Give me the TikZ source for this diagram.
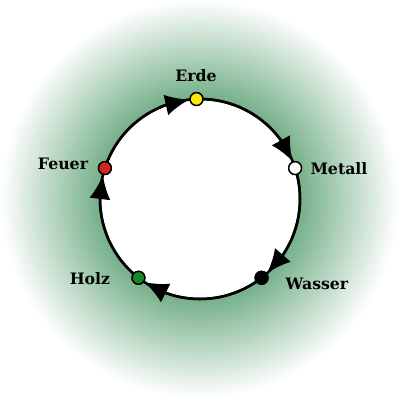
\documentclass[tikz,border=0pt]{standalone}
\usepackage{fontspec}
\setmainfont{DejaVu Serif}
\usetikzlibrary{arrows.meta,bending}
\definecolor{gdark}{RGB}{115,175,135}
\definecolor{dotyellow}{RGB}{250,230,10}
\definecolor{dotred}{RGB}{215,35,30}
\definecolor{dotgreen}{RGB}{25,135,40}
\tikzset{
  dot/.style={circle, draw=black, line width=1pt, minimum size=3.2mm, inner sep=0pt},
  lbl/.style={font=\fontsize{11.2}{13}\selectfont\bfseries, inner sep=0pt},
  flow/.style={line width=1.8pt, -{Latex[length=17pt,width=15pt,flex]}}
}
\begin{document}
\begin{tikzpicture}[x=0.25mm, y=0.25mm]
\useasboundingbox (-200,-201) rectangle (200,199);
\fill[white] (-200,-201) rectangle (200,199);
\foreach \r in {200,198,...,100}{
  \pgfmathsetmacro{\pct}{100*(200-\r)/100}
  \fill[gdark!\pct!white] (0,0) circle (\r);
}
\fill[white] (0,0) circle (100);
\draw[line width=1.8pt] (0,0) circle (100);
\node[dot, fill=dotyellow] (erde) at (92:100) {};
\node[dot, fill=white] (metall) at (18:100) {};
\node[dot, fill=black] (wasser) at (-52:100) {};
\node[dot, fill=dotgreen] (holz) at (-128:100) {};
\node[dot, fill=dotred] (feuer) at (162:100) {};
\draw[flow] (feuer.center) arc[start angle=162, end angle=96.2, radius=100];
\draw[flow] (erde.center) arc[start angle=92, end angle=22.2, radius=100];
\draw[flow] (metall.center) arc[start angle=18, end angle=-47.8, radius=100];
\draw[flow] (wasser.center) arc[start angle=-52, end angle=-123.8, radius=100];
\draw[flow] (holz.center) arc[start angle=-128, end angle=-193.8, radius=100];
\node[dot, fill=dotyellow] at (erde) {};
\node[dot, fill=white] at (metall) {};
\node[dot, fill=black] at (wasser) {};
\node[dot, fill=dotgreen] at (holz) {};
\node[dot, fill=dotred] at (feuer) {};
\node[lbl] (lerde) at (-4,123) {Erde};
\node[lbl] (lmetall) at (139,30) {Metall};
\node[lbl] (lwasser) at (117,-85) {Wasser};
\node[lbl] (lholz) at (-110,-80) {Holz};
\node[lbl] (lfeuer) at (-137,35) {Feuer};
\end{tikzpicture}
\end{document}
